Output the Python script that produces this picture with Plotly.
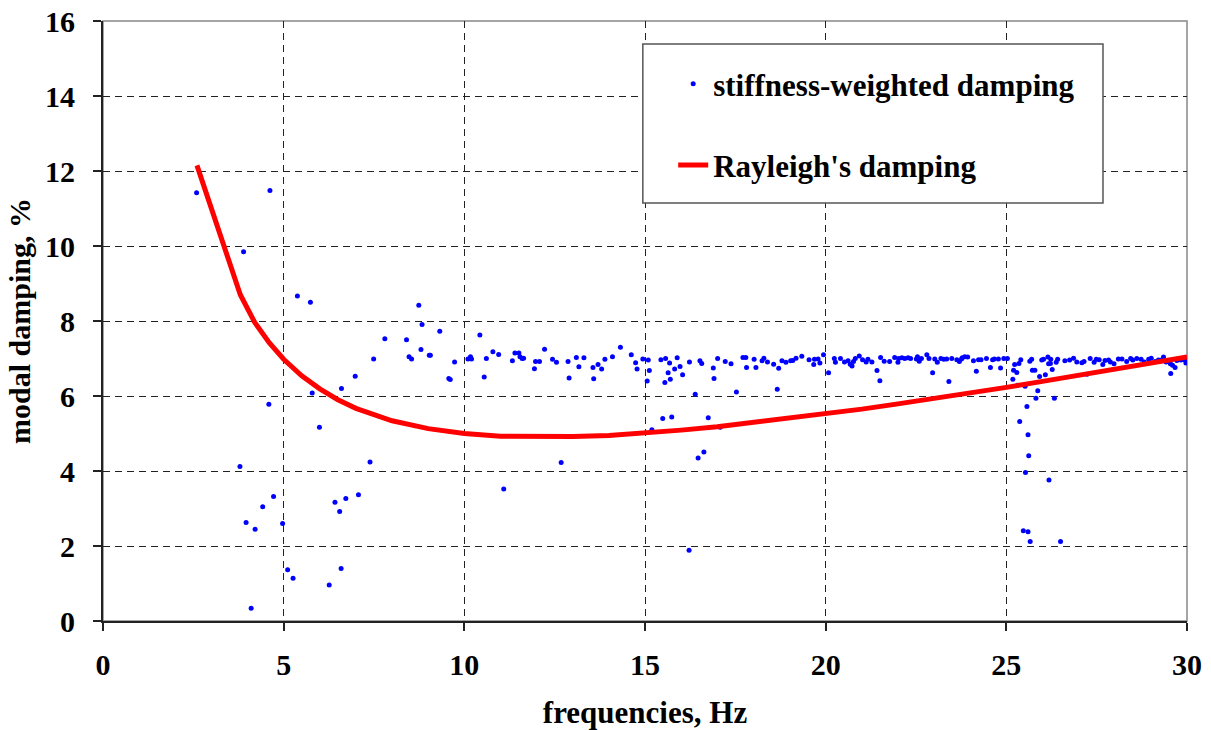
import plotly.graph_objects as go

# ---- data ----
scatter_freq = [
    2.59, 3.79, 3.89, 3.96, 4.10, 4.21, 4.42, 4.59, 4.62, 4.72, 4.97, 5.11, 5.26, 5.38, 5.74,
    5.79, 5.99, 6.26, 6.42, 6.55, 6.59, 6.60, 6.72, 6.98, 7.07, 7.39, 7.49, 7.80, 8.40, 8.47,
    8.54, 8.74, 8.80, 8.83, 9.03, 9.06, 9.32, 9.57, 9.61, 9.73, 10.10, 10.17, 10.20, 10.43, 10.55,
    10.61, 10.79, 10.95, 11.09, 11.33, 11.40, 11.51, 11.54, 11.60, 11.64, 11.94, 11.97, 12.08, 12.22, 12.44,
    12.55, 12.68, 12.87, 12.90, 13.10, 13.17, 13.31, 13.56, 13.58, 13.70, 13.80, 13.89, 14.10, 14.32, 14.62,
    14.74, 14.78, 14.94, 15.06, 15.09, 15.12, 15.19, 15.44, 15.49, 15.55, 15.57, 15.64, 15.68, 15.70, 15.74,
    15.82, 15.89, 15.97, 16.04, 16.22, 16.23, 16.39, 16.47, 16.52, 16.57, 16.63, 16.75, 16.89, 16.91, 17.01,
    17.08, 17.22, 17.38, 17.53, 17.71, 17.79, 17.81, 18.02, 18.07, 18.24, 18.29, 18.39, 18.56, 18.66, 18.70,
    18.79, 18.90, 19.03, 19.09, 19.18, 19.34, 19.54, 19.67, 19.69, 19.79, 19.84, 19.94, 20.08, 20.24, 20.27,
    20.41, 20.52, 20.62, 20.68, 20.73, 20.77, 20.82, 20.93, 21.02, 21.12, 21.17, 21.28, 21.42, 21.50, 21.52,
    21.62, 21.77, 21.91, 22.00, 22.02, 22.11, 22.19, 22.28, 22.35, 22.51, 22.54, 22.59, 22.65, 22.80, 22.86,
    22.96, 23.02, 23.09, 23.19, 23.27, 23.35, 23.41, 23.49, 23.63, 23.70, 23.76, 23.78, 23.85, 23.93, 24.09,
    24.17, 24.23, 24.30, 24.45, 24.56, 24.62, 24.67, 24.78, 24.84, 24.93, 25.03, 25.18, 25.20, 25.23, 25.29,
    25.31, 25.35, 25.37, 25.40, 25.47, 25.52, 25.53, 25.57, 25.60, 25.60, 25.62, 25.65, 25.66, 25.70, 25.72,
    25.79, 25.82, 25.87, 25.92, 25.98, 26.03, 26.08, 26.15, 26.17, 26.18, 26.22, 26.23, 26.27, 26.33, 26.38,
    26.42, 26.50, 26.62, 26.75, 26.86, 26.95, 27.09, 27.15, 27.23, 27.32, 27.43, 27.49, 27.57, 27.67, 27.73,
    27.83, 27.88, 27.98, 28.10, 28.20, 28.33, 28.44, 28.50, 28.61, 28.73, 28.82, 28.94, 29.01, 29.12, 29.21,
    29.29, 29.35, 29.42, 29.54, 29.55, 29.60, 29.67, 29.72, 29.83, 29.92, 29.97, 29.99,
]
scatter_damping = [
    11.42, 4.12, 9.85, 2.63, 0.34, 2.45, 3.05, 5.78, 11.48, 3.32, 2.60, 1.37, 1.14, 8.67, 8.50,
    6.08, 5.17, 0.96, 3.17, 2.92, 1.40, 6.20, 3.27, 6.53, 3.37, 4.24, 6.99, 7.53, 7.50, 7.05,
    6.99, 8.42, 7.24, 7.91, 7.09, 7.09, 7.73, 6.47, 6.44, 6.91, 6.99, 7.05, 6.99, 7.63, 6.51,
    7.00, 7.18, 7.11, 3.52, 6.94, 7.15, 7.15, 7.05, 7.00, 7.01, 6.73, 6.92, 6.92, 7.25, 6.98,
    6.90, 4.23, 6.92, 6.48, 7.03, 6.78, 7.02, 6.76, 6.46, 6.84, 6.72, 6.98, 7.05, 7.30, 7.10,
    6.89, 6.72, 6.99, 6.40, 6.96, 6.68, 5.10, 6.97, 5.40, 6.36, 7.00, 6.62, 6.88, 6.45, 5.44,
    6.72, 7.02, 6.79, 6.57, 1.89, 6.91, 6.05, 4.35, 6.94, 6.87, 4.51, 5.42, 6.75, 6.47, 7.00,
    5.17, 6.92, 6.86, 6.11, 7.03, 7.03, 6.76, 6.98, 6.76, 6.94, 7.01, 6.91, 6.85, 6.18, 6.74,
    6.94, 6.90, 6.94, 6.95, 7.01, 7.06, 6.97, 6.84, 6.98, 6.99, 6.88, 7.10, 6.62, 7.00, 6.90,
    7.00, 6.91, 6.94, 6.85, 6.80, 6.92, 7.00, 7.07, 6.97, 6.91, 6.98, 6.91, 6.68, 6.41, 7.03,
    6.93, 6.92, 7.03, 6.90, 7.00, 7.02, 7.00, 7.02, 7.00, 6.99, 7.05, 6.93, 7.00, 7.10, 7.00,
    6.62, 6.99, 6.90, 7.00, 6.98, 6.99, 6.39, 7.00, 6.97, 6.92, 6.99, 7.02, 7.05, 7.04, 6.94,
    6.66, 6.97, 6.97, 7.00, 6.76, 6.97, 6.99, 6.99, 6.75, 7.00, 7.00, 6.45, 6.69, 6.84, 6.63,
    6.29, 6.87, 5.32, 6.97, 2.41, 6.26, 3.96, 5.72, 4.97, 2.38, 4.41, 6.93, 2.12, 6.98, 6.69,
    6.69, 5.94, 6.14, 6.52, 6.96, 6.98, 6.57, 7.04, 6.86, 3.76, 6.87, 6.98, 6.71, 5.94, 6.90,
    6.98, 2.12, 6.94, 6.96, 7.01, 6.91, 6.89, 6.92, 6.58, 7.00, 6.90, 6.98, 6.97, 6.84, 6.95,
    6.96, 6.91, 6.86, 6.99, 6.99, 6.92, 7.00, 6.96, 7.00, 6.98, 6.91, 6.98, 7.01, 6.92, 6.96,
    6.96, 7.04, 6.91, 6.86, 6.60, 6.82, 6.76, 6.95, 6.96, 6.97, 6.88, 7.00,
]

rayleigh_freq = [2.6, 3.8, 4.2, 4.6, 5, 5.5, 6, 6.5, 7, 8, 9, 10, 11, 12, 13, 14, 15, 16,
                 17, 18, 19, 20, 21, 22, 23, 24, 25, 26, 27, 28, 29, 30]
rayleigh_damping = [12.15, 8.70, 7.96, 7.42, 6.98, 6.54, 6.19, 5.90, 5.67, 5.34, 5.13, 5.00,
                    4.93, 4.91, 4.92, 4.95, 5.01, 5.09, 5.18, 5.29, 5.40, 5.52, 5.65, 5.79,
                    5.93, 6.08, 6.23, 6.39, 6.55, 6.71, 6.87, 7.04]

x_ticks = [0, 5, 10, 15, 20, 25, 30]
y_ticks = [0, 2, 4, 6, 8, 10, 12, 14, 16]

FONT = "Liberation Serif, Times New Roman, serif"

fig = go.Figure()
fig.add_trace(go.Scatter(
    x=scatter_freq, y=scatter_damping, mode="markers",
    name="stiffness-weighted damping", legendgroup="a",
    marker=dict(color="#0000FF", size=5, line=dict(width=0)),
))
fig.add_trace(go.Scatter(
    x=rayleigh_freq, y=rayleigh_damping, mode="lines",
    name="Rayleigh's damping", legendgroup="b",
    line=dict(color="#FF0000", width=5),
))

# legend box (frame)
fig.add_shape(type="rect", xref="paper", yref="paper",
              x0=0.498, x1=0.9225, y0=0.6967, y1=0.9617,
              line=dict(color="#555555", width=1.5), fillcolor="white", layer="above")
# top / right frame
fig.add_shape(type="rect", xref="paper", yref="paper", x0=0, x1=1, y0=0, y1=1,
              line=dict(color="#888888", width=1.5), layer="below")

axis_common = dict(
    showgrid=True, gridcolor="#222222", gridwidth=1, griddash="7px,5px",
    showline=True, linecolor="#222222", linewidth=2,
    ticks="outside", ticklen=8, tickwidth=1.5, tickcolor="#222222",
    tickfont=dict(family=FONT, size=30, color="black", weight="bold"),
    zeroline=False, automargin=False,
)

fig.update_layout(
    width=1211, height=730,
    margin=dict(l=103, r=24, t=21, b=109),
    paper_bgcolor="white", plot_bgcolor="white",
    xaxis=dict(range=[0, 30], tickvals=x_ticks, ticklabelstandoff=8,
               title=dict(text="frequencies, Hz", standoff=22,
                          font=dict(family=FONT, size=31, color="black", weight="bold")),
               **axis_common),
    yaxis=dict(range=[0, 16], tickvals=y_ticks, ticklabelstandoff=12,
               title=dict(text="modal damping, %", standoff=6,
                          font=dict(family=FONT, size=30, color="black", weight="bold")),
               **axis_common),
    legend=dict(x=0.526, y=0.94, xanchor="left", yanchor="top",
                bgcolor="rgba(0,0,0,0)", borderwidth=0,
                tracegroupgap=38,
                font=dict(family=FONT, size=31, color="black", weight="bold")),
    showlegend=True,
)

fig.write_html("out.html")
